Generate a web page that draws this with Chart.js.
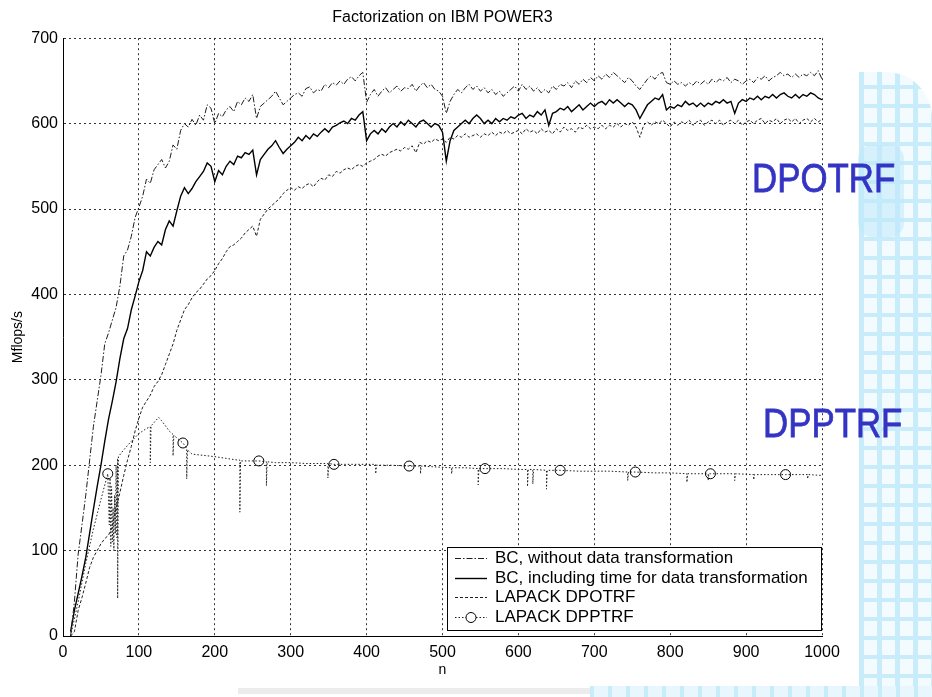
<!DOCTYPE html>
<html>
<head>
<meta charset="utf-8">
<title>Factorization on IBM POWER3</title>
<script src="https://cdn.jsdelivr.net/npm/chart.js@4.4.1/dist/chart.umd.min.js"></script>
<style>
  html, body { margin: 0; padding: 0; background: #fff; }
  #wrap { position: relative; width: 932px; height: 697px; overflow: hidden; background: #fff; }
  #myChart { position: absolute; left: 0; top: 0; z-index: 2; }
  .paper {
    position: absolute; left: 859px; top: 72px; width: 73px; height: 625px; z-index: 1;
    border-top-right-radius: 46px;
    background-color: #f3fbfe;
    background-image:
      repeating-linear-gradient(90deg, #c8ecfa 0 5px, transparent 5px 18px),
      repeating-linear-gradient(0deg, #c8ecfa 0 4px, transparent 4px 19px);
  }
  .blob { position: absolute; left: 858px; top: 145px; width: 46px; height: 92px; z-index: 1;
    background: #bfe9fa; border-radius: 14px; opacity: 0.55; }
  .floor { position: absolute; left: 238px; top: 688px; width: 360px; height: 6px; z-index: 1; background: #ececec; }
  .floorBlue { position: absolute; left: 590px; top: 686px; width: 342px; height: 11px; z-index: 1;
    background-color: #e8f7fd;
    background-image: repeating-linear-gradient(90deg, #c8ecfa 0 4px, transparent 4px 18px); }
  .tag { position: absolute; z-index: 3; color: #3434c4; font: 41px "Liberation Sans", Arial, sans-serif;
    -webkit-text-stroke: 0.8px #3434c4;
    line-height: 41px; transform: scaleX(0.85); transform-origin: left top; white-space: nowrap; }
</style>
</head>
<body>
<div id="wrap">
  <div class="paper"></div>
  <div class="blob"></div>
  <div class="floor"></div>
  <div class="floorBlue"></div>
  <canvas id="myChart" width="932" height="697"></canvas>
  <div class="tag" style="left:752px; top:158px;">DPOTRF</div>
  <div class="tag" style="left:763px; top:403px;">DPPTRF</div>
</div>
<script>
// sample sizes n = 10, 15, ..., 1000
const nStart = 10;
const nStep = 5;

const bcRaw = [
  0, 40, 96, 130, 165, 205, 245, 275, 305, 342, 355, 370, 385, 410, 445, 452, 468, 490, 502, 515,
  535, 530, 546, 552, 558, 548, 556, 575, 570, 592, 600, 596, 605, 598, 610, 604, 622, 618, 600, 612,
  608, 616, 620, 614, 626, 622, 630, 626, 634, 606, 620, 624, 628, 632, 638, 630, 622, 626, 630, 634,
  636, 632, 641, 643, 636, 640, 638, 646, 642, 648, 645, 650, 646, 652, 655, 650, 656, 660, 625, 634,
  640, 632, 638, 642, 636, 640, 644, 638, 642, 641, 646, 638, 644, 648, 642, 646, 640, 638, 632, 612,
  626, 634, 640, 636, 642, 646, 640, 644, 638, 642, 636, 640, 634, 638, 632, 636, 640, 644, 638, 646,
  640, 644, 638, 642, 636, 640, 636, 644, 640, 646, 644, 648, 642, 650, 646, 652, 648, 654, 650, 656,
  652, 658, 654, 660, 656, 652, 648, 654, 650, 644, 640, 646, 652, 656, 652, 658, 660, 648, 646, 650,
  646, 648, 644, 648, 645, 650, 646, 650, 646, 652, 648, 652, 650, 654, 648, 652, 650, 646, 650, 652,
  648, 654, 652, 656, 650, 654, 656, 660, 656, 658, 654, 658, 654, 658, 656, 660, 656, 662, 652
];

const bcTrans = [
  5, 30, 50, 70, 92, 120, 148, 175, 200, 228, 254, 275, 298, 325, 348, 360, 382, 398, 415, 428,
  450, 445, 455, 462, 458, 476, 486, 480, 498, 515, 525, 518, 524, 532, 538, 544, 554, 550, 532, 545,
  540, 550, 556, 552, 562, 560, 566, 564, 569, 540, 558, 564, 570, 574, 580, 572, 565, 570, 574, 578,
  584, 580, 586, 582, 588, 585, 590, 594, 590, 596, 598, 601, 603, 600, 606, 604, 610, 614, 580, 588,
  592, 588, 594, 590, 596, 600, 596, 602, 598, 604, 600, 596, 602, 604, 600, 596, 600, 598, 590, 556,
  580, 592, 596, 600, 604, 600, 606, 610, 606, 600, 604, 600, 606, 602, 606, 604, 608, 606, 610, 612,
  606, 610, 608, 614, 610, 616, 598, 612, 614, 618, 616, 620, 614, 618, 622, 616, 620, 624, 620, 624,
  626, 622, 628, 624, 628, 624, 620, 624, 622, 616, 606, 614, 622, 626, 630, 628, 634, 616, 620, 618,
  622, 620, 626, 622, 624, 620, 624, 620, 624, 622, 626, 624, 628, 624, 626, 612, 624, 628, 626, 630,
  628, 632, 628, 632, 630, 634, 630, 634, 636, 632, 630, 634, 630, 634, 632, 636, 634, 630, 628
];

const dpotrf = [
  0, 5, 30, 45, 62, 80, 92, 100, 108, 114, 118, 128, 150, 168, 188, 206, 222, 240, 255, 268,
  275, 282, 292, 298, 306, 318, 330, 342, 358, 370, 382, 388, 396, 402, 406, 412, 418, 422, 428, 436,
  442, 450, 456, 458, 462, 466, 472, 476, 480, 468, 488, 494, 500, 504, 508, 512, 518, 522, 525, 522,
  526, 524, 528, 530, 526, 532, 536, 534, 540, 538, 544, 542, 546, 548, 546, 550, 552, 550, 554, 556,
  558, 562, 564, 562, 566, 568, 570, 568, 572, 570, 574, 566, 578, 576, 580, 578, 582, 580, 582, 578,
  584, 582, 586, 584, 588, 584, 586, 588, 584, 588, 586, 590, 586, 590, 588, 592, 588, 590, 592, 588,
  594, 590, 592, 588, 594, 590, 592, 588, 594, 590, 596, 592, 594, 590, 596, 594, 598, 594, 596, 594,
  598, 594, 598, 596, 600, 596, 600, 598, 602, 596, 584, 598, 602, 598, 602, 600, 604, 600, 596, 602,
  598, 602, 600, 604, 598, 602, 604, 598, 602, 604, 600, 604, 598, 602, 604, 600, 604, 598, 602, 604,
  600, 604, 606, 600, 604, 602, 606, 600, 604, 606, 602, 606, 600, 604, 606, 602, 606, 602, 605
];

// LAPACK DPPTRF is read at irregular n (spikes are pairs at the same n)
const dppN = [10, 20, 30, 40, 50, 59, 61, 62, 63, 64, 65, 66, 67, 68, 69, 70, 71, 72, 72, 73,
  80, 90, 100, 110, 115, 115, 116, 120, 126, 130, 140, 145, 145, 146, 150, 158, 163, 163, 164, 170,
  180, 190, 200, 215, 230, 233, 233, 234, 245, 258, 268, 268, 269, 280, 300, 320, 340, 349, 349, 350,
  357, 380, 400, 412, 412, 413, 430, 456, 471, 471, 472, 490, 512, 512, 513, 530, 547, 547, 548, 556,
  580, 600, 612, 612, 613, 619, 619, 620, 637, 637, 638, 655, 680, 700, 720, 744, 744, 745, 754, 780,
  800, 822, 822, 823, 850, 850, 851, 853, 870, 885, 885, 886, 910, 910, 911, 930, 952, 970, 981, 981,
  982, 1000];
const dppV = [0, 40, 85, 125, 160, 190, 130, 185, 105, 175, 110, 150, 100, 165, 120, 200, 115, 208, 44, 210,
  218, 228, 237, 243, 245, 203, 246, 250, 256, 252, 240, 236, 211, 235, 232, 226, 220, 184, 218, 213,
  212, 211, 210, 208, 206, 206, 145, 205, 205, 205, 204, 176, 204, 203, 203, 202, 202, 202, 185, 202,
  201, 201, 201, 201, 190, 200, 200, 199, 199, 190, 199, 198, 197, 190, 197, 197, 196, 177, 196, 196,
  196, 195, 195, 175, 195, 195, 178, 195, 194, 172, 194, 194, 193, 193, 193, 192, 182, 192, 192, 191,
  191, 190, 180, 190, 190, 182, 190, 190, 190, 190, 182, 190, 189, 183, 189, 189, 189, 189, 189, 184,
  189, 188];
const dppMarks = [59, 158, 258, 357, 456, 556, 655, 754, 853, 952];

const xTicks = [0, 100, 200, 300, 400, 500, 600, 700, 800, 900, 1000];
const yTicks = [0, 100, 200, 300, 400, 500, 600, 700];

const nGrid = bcRaw.map((v, i) => nStart + i * nStep);
const toPoints = (xs, ys) => xs.map((x, i) => ({ x: x, y: ys[i] }));

Chart.defaults.font.family = '"Liberation Sans", Arial, sans-serif';
Chart.defaults.color = '#000';

const legendBox = {
  id: 'legendBox',
  afterDraw(chart) {
    const { ctx, chartArea } = chart;
    const w = 374, h = 83;
    const x0 = chartArea.right - w - 1;
    const y0 = chartArea.bottom - h - 6;
    ctx.save();
    ctx.fillStyle = '#fff';
    ctx.fillRect(x0, y0, w, h);
    ctx.strokeStyle = '#000';
    ctx.lineWidth = 1;
    ctx.strokeRect(x0 + 0.5, y0 + 0.5, w, h);
    ctx.font = '17px "Liberation Sans", Arial, sans-serif';
    ctx.textBaseline = 'middle';
    chart.data.datasets.forEach((ds, i) => {
      const y = Math.round(y0 + 11 + i * 19.7) + 0.5;
      ctx.setLineDash(ds.borderDash || []);
      ctx.lineWidth = ds.borderWidth;
      ctx.strokeStyle = ds.borderColor;
      ctx.beginPath();
      ctx.moveTo(x0 + 8, y);
      ctx.lineTo(x0 + 40, y);
      ctx.stroke();
      ctx.setLineDash([]);
      if (ds.markers) {
        ctx.fillStyle = '#fff';
        ctx.beginPath();
        ctx.arc(x0 + 24, y, 5, 0, Math.PI * 2);
        ctx.fill();
        ctx.lineWidth = 1;
        ctx.strokeStyle = '#000';
        ctx.stroke();
      }
      ctx.fillStyle = '#000';
      ctx.fillText(ds.label, x0 + 48, y);
    });
    ctx.restore();
  }
};

new Chart(document.getElementById('myChart'), {
  type: 'line',
  data: {
    datasets: [{
      label: 'BC, without data transformation',
      data: toPoints(nGrid, bcRaw),
      borderColor: '#1e1e1e',
      borderWidth: 1,
      borderDash: [6, 2, 1.5, 2],
      pointRadius: 0
    }, {
      label: 'BC, including time for data transformation',
      data: toPoints(nGrid, bcTrans),
      borderColor: '#000',
      borderWidth: 1.4,
      pointRadius: 0
    }, {
      label: 'LAPACK DPOTRF',
      data: toPoints(nGrid, dpotrf),
      borderColor: '#1e1e1e',
      borderWidth: 1,
      borderDash: [3, 2],
      pointRadius: 0
    }, {
      label: 'LAPACK DPPTRF',
      data: toPoints(dppN, dppV),
      borderColor: '#1e1e1e',
      borderWidth: 1,
      borderDash: [1.5, 2],
      markers: true,
      pointStyle: 'circle',
      pointRadius: c => (c.raw && dppMarks.includes(c.raw.x)) ? 5 : 0,
      pointBorderColor: '#000',
      pointBackgroundColor: 'rgba(255,255,255,0)',
      pointBorderWidth: 1
    }]
  },
  options: {
    responsive: false,
    animation: false,
    layout: { padding: { top: 0, right: 110, left: 0, bottom: 0 } },
    plugins: {
      legend: { display: false },
      tooltip: { enabled: false },
      title: {
        display: true,
        text: 'Factorization on IBM POWER3',
        fullSize: false,
        font: { size: 16, weight: 'normal' },
        color: '#000',
        padding: { top: 8, bottom: 11 }
      }
    },
    scales: {
      x: {
        type: 'linear',
        min: 0,
        max: 1000,
        afterBuildTicks: s => { s.ticks = xTicks.map(v => ({ value: v })); },
        afterFit: s => { s.height = 61; },
        ticks: { font: { size: 16 }, color: '#000', padding: 7, maxRotation: 0, callback: v => String(v) },
        grid: { color: '#333', lineWidth: 1, drawTicks: false },
        border: { display: true, color: '#000', width: 1, dash: [2, 3] },
        title: { display: true, text: 'n', font: { size: 14 }, color: '#000', padding: { top: 0, bottom: 18 } }
      },
      y: {
        min: 0,
        max: 700,
        afterBuildTicks: s => { s.ticks = yTicks.map(v => ({ value: v })); },
        afterFit: s => { s.width = 63; },
        ticks: { font: { size: 16 }, color: '#000', padding: 5, callback: v => String(v) },
        grid: { color: '#333', lineWidth: 1, drawTicks: false },
        border: { display: true, color: '#000', width: 1, dash: [2, 3] },
        title: { display: true, text: 'Mflops/s', font: { size: 14 }, color: '#000', padding: { top: 10, bottom: 0 } }
      }
    }
  },
  plugins: [legendBox]
});
</script>
</body>
</html>
